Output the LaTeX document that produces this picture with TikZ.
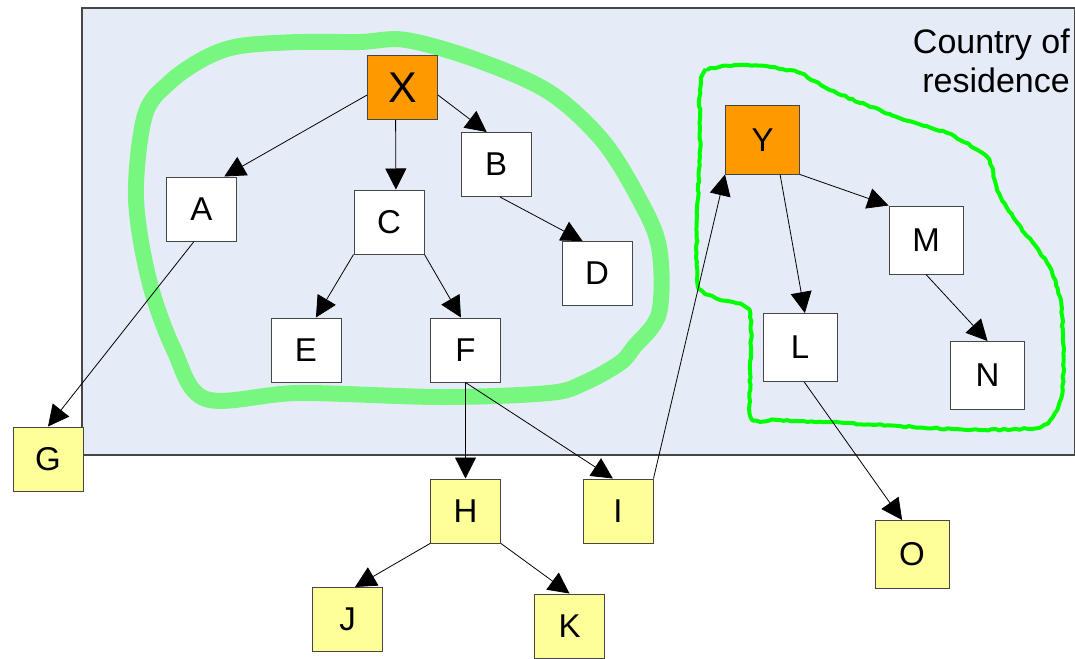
\documentclass[tikz,border=0pt]{standalone}
\usepackage{fontspec}
\setmainfont{Liberation Sans}
\usepackage{xcolor}
\usetikzlibrary{arrows.meta,decorations.pathmorphing}
\definecolor{Region}{RGB}{230,236,247}
\definecolor{Tangerine}{RGB}{255,153,0}
\definecolor{Pale}{RGB}{255,255,153}
\definecolor{SoftGreen}{RGB}{120,247,128}
\definecolor{LimeGreen}{RGB}{0,255,0}
\definecolor{Rim}{RGB}{70,70,70}

\tikzset{
    unit/.style={draw=Rim, line width=1pt, fill=white, minimum width=70pt,
        minimum height=64pt, inner sep=0pt, font=\fontsize{33pt}{38pt}\selectfont},
    bigunit/.style={unit, minimum width=74pt, minimum height=68pt},
    link/.style={-{Triangle[length=21pt,width=21pt]}, line width=0.8pt},
}

\begin{document}
\begin{tikzpicture}[x=1pt,y=-1pt]
    \useasboundingbox (0,0) rectangle (1075,658);
    \draw[Rim, fill=Region, line width=1.2pt] (82,8) rectangle (1075,455);
    \node[anchor=north east, align=right, inner sep=0pt,
        font=\fontsize{34pt}{39pt}\selectfont] (home) at (1070,29) {Country of\\residence};

    \draw[SoftGreen, line width=16pt, line join=round] plot[smooth cycle, tension=0.55] coordinates {
        (406,40) (477,60) (549,92) (602,140) (638,197) (659,247) (659,313) (634,347)
        (620,363) (584,383) (549,393) (441,397) (299,393) (206,399) (174,350) (149,280)
        (136,197) (145,115) (170,82) (205,58) (240,46) (300,42) (360,42)};
    \pgfmathsetseed{7}
    \draw[LimeGreen, line width=4pt, line join=round,
        decorate, decoration={random steps, segment length=4pt, amplitude=0.8pt}]
        plot[smooth cycle, tension=0.4] coordinates {
        (700,90) (707,70) (747,65) (797,72) (830,90) (897,117) (947,133) (987,157)
        (997,190) (1013,217) (1047,263) (1060,297) (1063,333) (1063,383) (1057,410)
        (1040,427) (980,430) (913,427) (847,423) (780,420) (751,417) (751,350)
        (750,313) (740,304) (716,298) (698,285) (697,217) (700,150)};

    \node[unit, fill=Tangerine, font=\fontsize{43pt}{46pt}\selectfont] (X) at (402.5,87.5) {X};
    \node[unit] (A) at (201.5,209) {A};
    \node[unit] (B) at (496,164.5) {B};
    \node[unit] (C) at (389,222) {C};
    \node[unit] (D) at (597,273.5) {D};
    \node[unit] (E) at (306,350) {E};
    \node[unit] (F) at (465.5,350) {F};
    \node[unit, fill=Pale] (G) at (48,459) {G};
    \node[unit, fill=Pale] (H) at (465.5,511) {H};
    \node[unit, fill=Pale] (I) at (618,511) {I};
    \node[unit, fill=Pale] (J) at (347.5,619.5) {J};
    \node[unit, fill=Pale] (K) at (569.5,626) {K};
    \node[bigunit, fill=Tangerine] (Y) at (762.5,140) {Y};
    \node[bigunit] (M) at (926,240) {M};
    \node[bigunit] (L) at (800,347.5) {L};
    \node[bigunit] (N) at (987.5,375.5) {N};
    \node[bigunit, fill=Pale] (O) at (912,554.5) {O};

    \draw[link] (X.192) -- (A.55);
    \draw[link] (X.258) -- (C.78);
    \draw[link] (X.348) -- (B.106);
    \draw[link] (B.277) -- (D.114);
    \draw[link] (C.south west) -- (E.73);
    \draw[link] (C.south east) -- (F.98);
    \draw[link] (A.257) -- (G.north);
    \draw[link] (F.south) -- (H.north);
    \draw[link] (F.south) -- (I.99);
    \draw[link] (I.north east) -- (Y.south west);
    \draw[link] (Y.south east) -- (M.north west);
    \draw[link] (Y.297) -- (L.82);
    \draw[link] (M.south) -- (N.north);
    \draw[link] (L.277) -- (O.106);
    \draw[link] (H.south west) -- (J.77);
    \draw[link] (H.south east) -- (K.north);
\end{tikzpicture}
\end{document}
